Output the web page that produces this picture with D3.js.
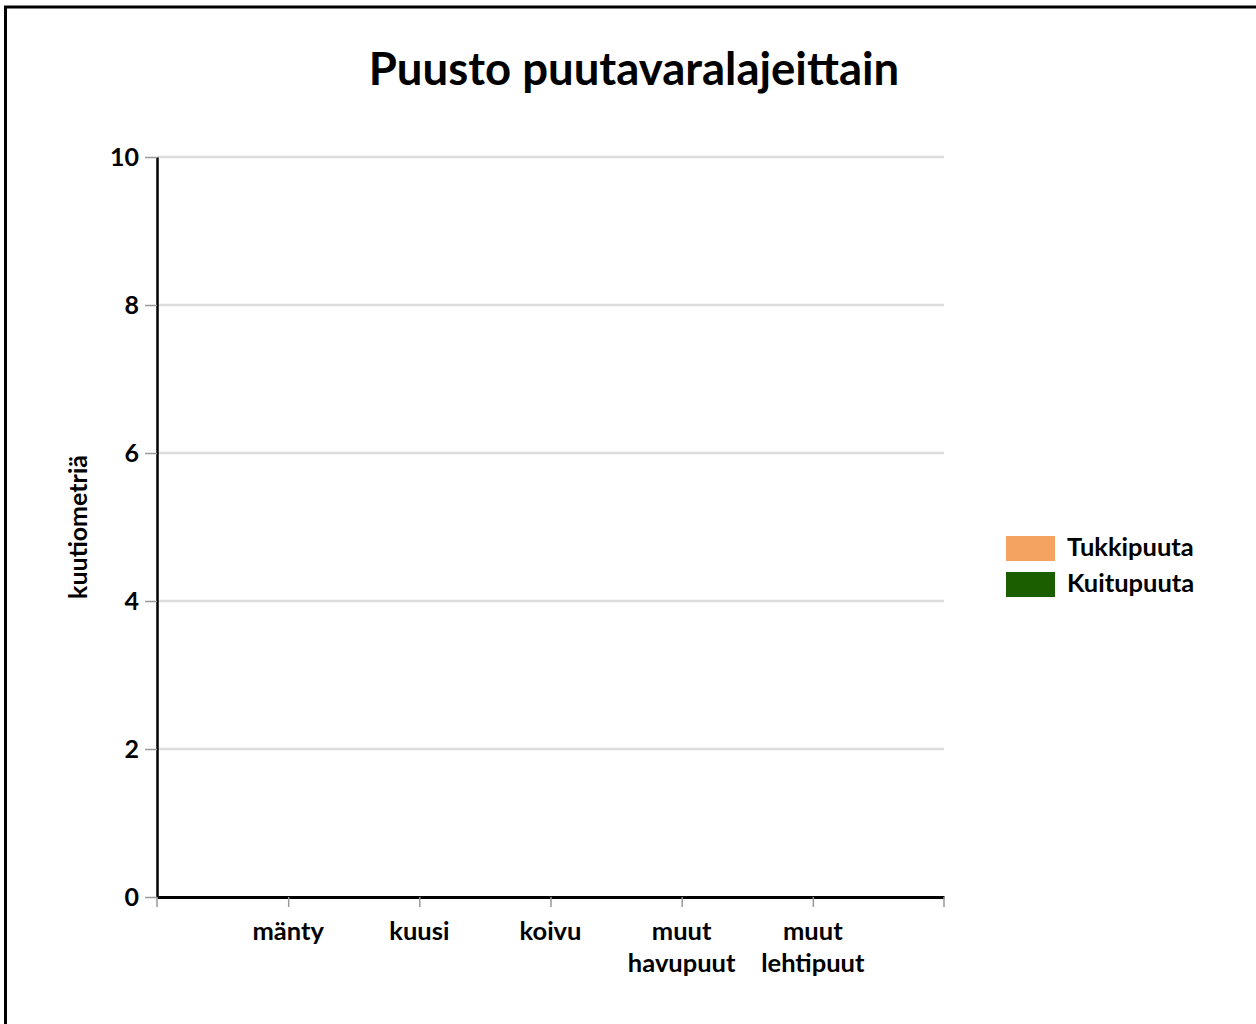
<!DOCTYPE html>
<html>
<head>
<meta charset="utf-8">
<script src="https://cdn.jsdelivr.net/npm/d3@7"></script>
<style>
body { margin: 0; background: #fff; }
text { font-family: Lato, "Open Sans", sans-serif; }
</style>
</head>
<body>
<div id="canvas"></div>
<script>
var categories = [["mänty"], ["kuusi"], ["koivu"], ["muut", "havupuut"], ["muut", "lehtipuut"]];
var seriesNames = ["Tukkipuuta", "Kuitupuuta"];
var seriesColors = ["#F4A460", "#1B5E00"];
var tukkipuuta = [0, 0, 0, 0, 0];
var kuitupuuta = [0, 0, 0, 0, 0];
var yTicks = [0, 2, 4, 6, 8, 10];

var width = 1256;
var height = 1024;
var plotLeft = 157, plotRight = 944, plotTop = 157, plotBottom = 897;

var svg = d3.select("#canvas")
	.append("svg")
	.attr("width", width)
	.attr("height", height);

// frame
svg.append("rect")
	.attr("x", 5.5)
	.attr("y", 7)
	.attr("width", 1400)
	.attr("height", 1200)
	.attr("fill", "none")
	.attr("stroke", "#000")
	.attr("stroke-width", 3);

svg.append("text")
	.text("Puusto puutavaralajeittain")
	.attr("x", 634)
	.attr("y", 85)
	.attr("text-anchor", "middle")
	.attr("font-size", 45.5)
	.attr("font-weight", "bold")
	.attr("fill", "#000");

var keys = categories.map(function(d){ return d.join(" "); });
var x = d3.scalePoint().domain(keys).range([plotLeft, plotRight]).padding(1);
var y = d3.scaleLinear().domain([0, 10]).range([plotBottom, plotTop]);

// grid
svg.append("g")
	.selectAll("line")
	.data(yTicks.slice(1))
	.enter()
	.append("line")
	.attr("x1", plotLeft)
	.attr("x2", plotRight)
	.attr("y1", function(d){ return y(d); })
	.attr("y2", function(d){ return y(d); })
	.attr("stroke", "#dcdcdc")
	.attr("stroke-width", 2.5);

// bars (stacked)
var stackData = keys.map(function(k, i){
	return {key: k, Tukkipuuta: tukkipuuta[i], Kuitupuuta: kuitupuuta[i]};
});
var stacked = d3.stack().keys(seriesNames)(stackData);
var barWidth = 70;
svg.append("g")
	.selectAll("g")
	.data(stacked)
	.enter()
	.append("g")
	.attr("fill", function(d, i){ return seriesColors[i]; })
	.selectAll("rect")
	.data(function(d){ return d; })
	.enter()
	.append("rect")
	.attr("x", function(d){ return x(d.data.key) - barWidth / 2; })
	.attr("y", function(d){ return y(d[1]); })
	.attr("width", barWidth)
	.attr("height", function(d){ return y(d[0]) - y(d[1]); });

// y axis
var yAxis = svg.append("g")
	.attr("transform", "translate(" + plotLeft + ",0)")
	.call(d3.axisLeft(y).tickValues(yTicks).tickSize(12).tickPadding(6).tickSizeOuter(0));
yAxis.select(".domain").attr("stroke", "#000").attr("stroke-width", 2.5);
yAxis.selectAll(".tick line").attr("stroke", "#999").attr("stroke-width", 1.5);
yAxis.selectAll(".tick text")
	.attr("font-family", "Lato, sans-serif")
	.attr("font-size", 25)
	.attr("font-weight", "bold")
	.attr("fill", "#000");

// x axis
var xAxis = svg.append("g")
	.attr("transform", "translate(0," + plotBottom + ")")
	.call(d3.axisBottom(x).tickSize(10).tickSizeOuter(0).tickFormat(""));
xAxis.select(".domain").attr("stroke", "#000").attr("stroke-width", 3);
xAxis.selectAll(".tick line").attr("stroke", "#999").attr("stroke-width", 1.5);
// end ticks
xAxis.selectAll("line.edge")
	.data([plotLeft, plotRight])
	.enter()
	.append("line")
	.attr("class", "edge")
	.attr("x1", function(d){ return d; })
	.attr("x2", function(d){ return d; })
	.attr("y1", 0)
	.attr("y2", 10)
	.attr("stroke", "#999")
	.attr("stroke-width", 1.5);

var catLabels = svg.append("g")
	.selectAll("text")
	.data(categories)
	.enter()
	.append("text")
	.attr("text-anchor", "middle")
	.attr("font-size", 25.5)
	.attr("font-weight", "bold")
	.attr("fill", "#000");
catLabels.selectAll("tspan")
	.data(function(d, i){ return d.map(function(s){ return {s: s, k: keys[i]}; }); })
	.enter()
	.append("tspan")
	.attr("x", function(d){ return x(d.k); })
	.attr("y", function(d, j){ return 940 + j * 32; })
	.text(function(d){ return d.s; });

// y axis title
svg.append("text")
	.text("kuutiometriä")
	.attr("transform", "translate(87,527) rotate(-90)")
	.attr("text-anchor", "middle")
	.attr("font-size", 25)
	.attr("font-weight", "bold")
	.attr("fill", "#000");

// legend
var legend = svg.append("g")
	.selectAll("g")
	.data(seriesNames)
	.enter()
	.append("g")
	.attr("transform", function(d, i){ return "translate(1006," + (536 + i * 36) + ")"; });
legend.append("rect")
	.attr("width", 49)
	.attr("height", 25)
	.attr("fill", function(d, i){ return seriesColors[i]; });
legend.append("text")
	.text(function(d){ return d; })
	.attr("x", 61)
	.attr("y", 20)
	.attr("font-size", 25.5)
	.attr("font-weight", "bold")
	.attr("fill", "#000");
</script>
</body>
</html>
